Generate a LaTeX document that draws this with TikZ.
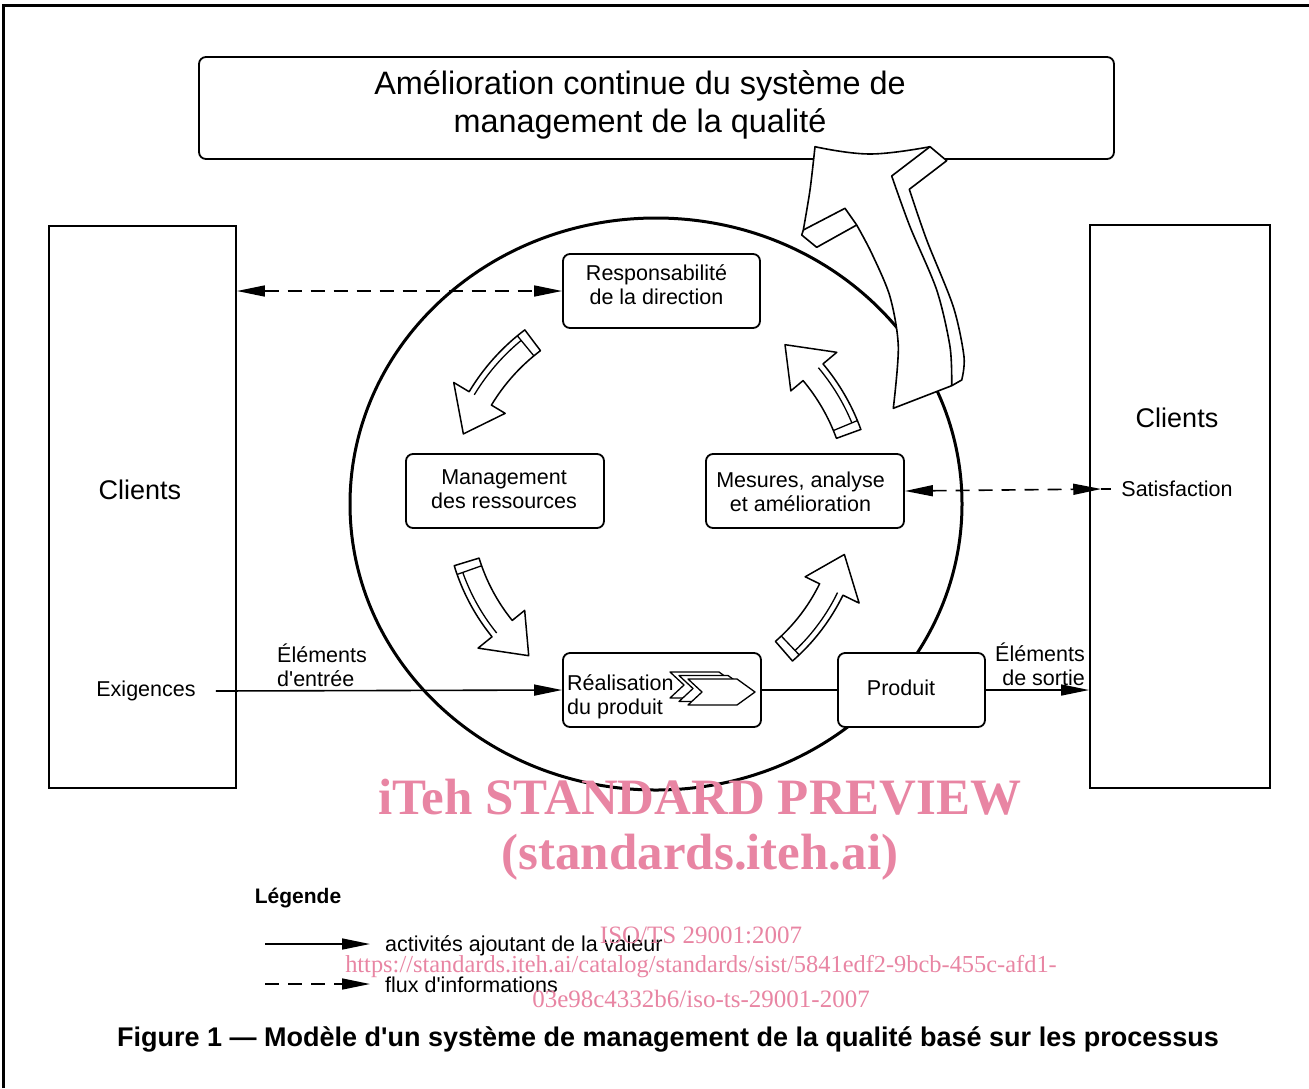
\documentclass[tikz,border=0pt]{standalone}
\usepackage{fontspec}
\setmainfont{Liberation Sans}[Ligatures=TeXOff]
\newfontfamily\wmfont{Liberation Serif}
\usetikzlibrary{arrows.meta,calc}
\definecolor{wm}{RGB}{232,133,163}
\newcommand{\qmarr}[4]{%
  \pgfmathsetmacro\qri{#4-13}%
  \pgfmathsetmacro\qro{#4+13}%
  \pgfmathsetmacro\qhi{#4-29}%
  \pgfmathsetmacro\qho{#4+31}%
  \pgfmathsetmacro\qrs{#4+7}%
  \pgfmathsetmacro\qTb{#1-2.5}%
  \draw[arr] ($(C)+(#1:\qri)$) arc[start angle=#1,end angle=#2,radius=\qri]
     -- ($(C)+(#2:\qhi)$) -- ($(C)+(#3:#4)$) -- ($(C)+(#2:\qho)$)
     -- ($(C)+(#2:\qro)$) arc[start angle=#2,end angle=#1,radius=\qro] -- cycle;
  \draw[arrin] ($(C)+(\qTb:\qri)$) -- ($(C)+(\qTb:\qro)$);
  \draw[arrin] ($(C)+(\qTb:\qrs)$) arc[start angle=\qTb,end angle=#2,radius=\qrs];
}
\begin{document}
\begin{tikzpicture}[x=1pt,y=-1pt,
  >={Triangle[length=28pt,width=11pt]},
  box/.style={draw,line width=1.8pt,rounded corners=7pt,fill=white,inner sep=0pt},
  side/.style={draw,line width=1.8pt,inner sep=0pt},
  txt/.style={font=\fontsize{21.5}{24}\selectfont,align=center,inner sep=0pt},
  big/.style={font=\fontsize{27}{30}\selectfont,inner sep=0pt},
  flow/.style={line width=1.6pt,->},
  info/.style={line width=1.6pt,dash pattern=on 14pt off 9pt},
  arr/.style={line width=1.5pt,fill=white,line join=round},
  arrin/.style={line width=1.3pt},
  wmbig/.style={text=wm,font=\wmfont\bfseries\fontsize{51}{56}\selectfont,inner sep=0pt},
  wmsmall/.style={text=wm,font=\wmfont\fontsize{25}{30}\selectfont,inner sep=0pt}]
\useasboundingbox (0,0) rectangle (1309,1088);
% frame
\draw[line width=3pt] (3,1088) -- (3,5) -- (1309,5);
% title box
\node[box,minimum width=915pt,minimum height=102pt] (title) at (656.5,108) {};
\node[font=\fontsize{32.4}{38}\selectfont,align=center,inner sep=0pt] (titletxt) at (640,105)
  {Amélioration continue du système de\\management de la qualité};
% client boxes
\node[side,minimum width=187pt,minimum height=562pt] (cl) at (142.5,507) {};
\node[side,minimum width=180pt,minimum height=563pt] (cr) at (1180,506.5) {};
\node[big] (cltxt) at (140,490) {Clients};
\node[txt] (exig) at (146,691) {Exigences};
\node[big] (crtxt) at (1177,418) {Clients};
\node[txt] (sat) at (1177,489) {Satisfaction};
% circle
\coordinate (C) at (656,504);
\draw[line width=3pt] (C) ellipse [x radius=306, y radius=286];
% big improvement arrow
\draw[arr,line width=1.6pt]
  plot[smooth,tension=0.7] coordinates {(815,146.7) (870,154) (930,146.7)}
  -- (946.7,160.7) -- (909.3,189.3)
  -- plot[smooth] coordinates {(909.3,189.3) (926.7,240) (953.3,306.7) (964,356.7) (961.7,380)}
  -- (951.7,385.7) -- (893.3,408.3)
  -- plot[smooth] coordinates {(893.3,408.3) (898.3,346.7) (890,296.7) (871.7,253.3) (856.7,225)}
  -- (816.7,247.3) -- (801.7,235) -- (803.3,230)
  -- plot[smooth] coordinates {(803.3,230) (810,190) (815,146.7)} -- cycle;
\draw[line width=1.6pt,line join=round] (803.3,230) -- (845,208.3) -- (856.7,225);
\draw[line width=1.6pt,line join=round] (930,146.7) -- (891.7,176)
  -- plot[smooth] coordinates {(891.7,176) (910,226.7) (936.7,290) (950,346.7) (951.7,385.7)};
% cycle arrows
\qmarr{233}{211}{200}{205}
\qmarr{340}{320}{309}{205}
\qmarr{163}{141}{130}{198}
\qmarr{49}{26}{15}{195}
% process boxes
\node[box,minimum width=197pt,minimum height=74pt] (resp) at (661.5,291) {};
\node[txt] (resptxt) at (656.5,285) {Responsabilité\\de la direction};
\node[box,minimum width=198pt,minimum height=74pt] (mgmt) at (505,491) {};
\node[txt] (mgmttxt) at (504,489) {Management\\des ressources};
\node[box,minimum width=198pt,minimum height=74pt] (mes) at (805,491) {};
\node[txt] (mestxt) at (800.5,492) {Mesures, analyse\\et amélioration};
\node[box,minimum width=198pt,minimum height=74pt] (real) at (662,690) {};
\node[box,minimum width=147pt,minimum height=74pt] (prod) at (911.5,690) {};
\node[txt] (prodtxt) at (901,688) {Produit};
% chevrons
\foreach \dx/\dy in {-18/-7,-9/-3.5,0/0}{
  \draw[line width=1.3pt,fill=white,line join=round,shift={(\dx,\dy)}]
    (688,679) -- (737,679) -- (755,692) -- (737,705) -- (688,705) -- (702,692) -- cycle;
}
\node[txt,align=left,anchor=west] (realtxt) at (567,697) {Réalisation\\du produit};
% connectors
\draw[info,<->] (resp.west -| cl.east) -- (resp.west);
\coordinate (satin) at ([xshift=-20pt]sat.west);
\draw[info,<->] (mes.east) -- (satin);
\draw[line width=1.6pt] (satin) -- ([xshift=-10pt]sat.west);
\draw[flow] ([xshift=20pt]exig.east) -- (real.west);
\draw[line width=1.6pt] (real.east) -- (prod.west);
\draw[flow] (prod.east) -- (prod.east -| cr.west);
\node[txt,align=left,anchor=west] (inlbl) at (277,665.5) {Éléments\\d'entrée};
\node[txt,align=right,anchor=east] (outlbl) at (1085,664) {Éléments\\de sortie};
% legend
\node[txt,font=\bfseries\fontsize{21}{24}\selectfont] (leg) at (298,898) {Légende};
\coordinate (la) at (265,944);
\coordinate (lb) at (370,944);
\coordinate (lc) at (265,984);
\coordinate (ld) at (370,984);
\draw[flow] (la) -- (lb);
\draw[info,->] (lc) -- (ld);
\node[txt,anchor=west] (leg1) at (385,946) {activités ajoutant de la valeur};
\node[txt,anchor=west] (leg2) at (385,985) {flux d'informations};
% caption
\node[font=\bfseries\fontsize{27}{30}\selectfont,inner sep=0pt] (cap) at (668,1039)
  {Figure 1 — Modèle d'un système de management de la qualité basé sur les processus};
% watermark
\node[wmbig] (wm1) at (700,797) {iTeh STANDARD PREVIEW};
\node[wmbig] (wm2) at (700,857) {(standards.iteh.ai)};
\node[wmsmall] (wm3) at (701,935) {ISO/TS 29001:2007};
\node[wmsmall,font=\wmfont\fontsize{24.4}{30}\selectfont] (wm4) at (701,967) {https://standards.iteh.ai/catalog/standards/sist/5841edf2-9bcb-455c-afd1-};
\node[wmsmall] (wm5) at (701,999) {03e98c4332b6/iso-ts-29001-2007};
\end{tikzpicture}
\end{document}
